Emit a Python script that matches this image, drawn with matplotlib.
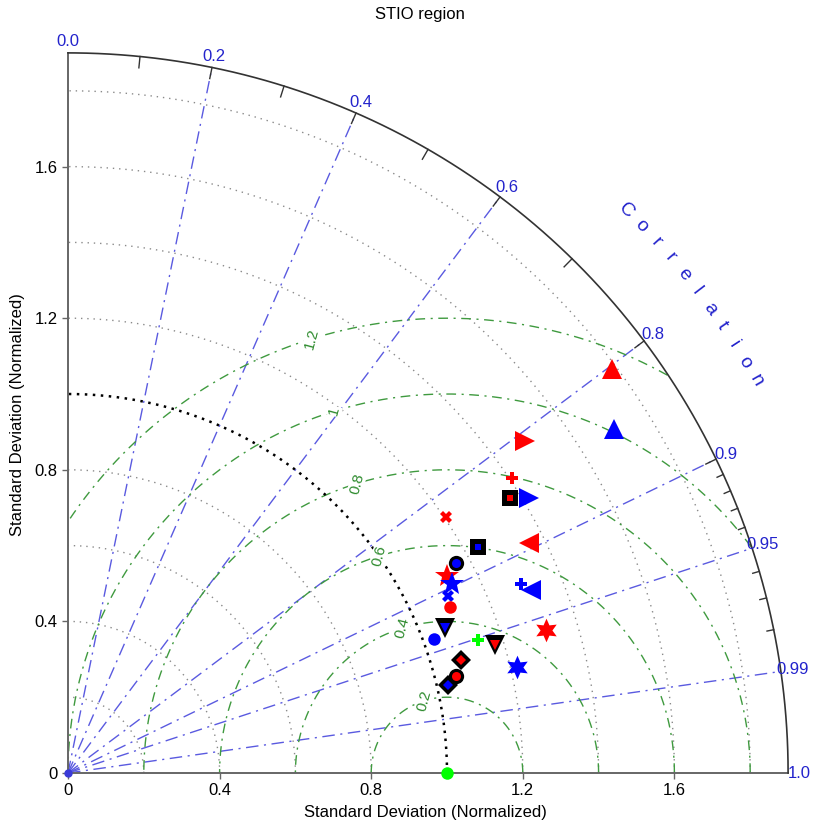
import numpy as np
import matplotlib.pyplot as plt

plt.rcParams['font.family'] = ['Liberation Sans', 'DejaVu Sans']

# normalized standard deviation and correlation of each model vs. observation
std_dev = [1.787, 1.704, 1.490, 1.406, 1.375, 1.416, 1.203, 1.235, 1.358,
           1.164, 1.127, 1.130, 1.106, 1.099, 1.294, 1.313, 1.066, 1.028,
           1.138, 1.175, 1.316, 1.217, 1.079, 1.055, 1.030, 1.000]
corr = [0.803, 0.846, 0.809, 0.833, 0.849, 0.859, 0.828, 0.876, 0.895,
        0.880, 0.887, 0.897, 0.907, 0.917, 0.923, 0.930, 0.933, 0.939,
        0.951, 0.958, 0.958, 0.973, 0.961, 0.970, 0.974, 1.000]

# marker styles (shape, colour, black backing)
shapes = ['^', '^', '>', 'P', 's', '>', 'X', 's', '<',
          'o', '*', '*', 'X', 'o', 'P', '<', 'v', 'o',
          'P', 'v', 'hex', 'hex', 'D', 'o', 'D', 'o']
colors = ['red', 'blue', 'red', 'red', 'red', 'blue', 'red', 'blue', 'red',
          'blue', 'red', 'blue', 'blue', 'red', 'blue', 'blue', 'blue', 'blue',
          'lime', 'red', 'red', 'blue', 'red', 'red', 'blue', 'lime']
backed = [False, False, False, False, True, False, False, True, False,
          True, False, False, False, False, False, False, True, False,
          False, True, False, False, True, True, True, False]

std_ticks = [0, 0.4, 0.8, 1.2, 1.6]
std_tick_labels = ['0', '0.4', '0.8', '1.2', '1.6']
std_circles = [0.2, 0.4, 0.6, 0.8, 1.0, 1.2, 1.4, 1.6, 1.8]
corr_lines = [0.2, 0.4, 0.6, 0.8, 0.9, 0.95, 0.99]
corr_labels = [0.0, 0.2, 0.4, 0.6, 0.8, 0.9, 0.95, 0.99, 1.0]
corr_label_text = ['0.0', '0.2', '0.4', '0.6', '0.8', '0.9', '0.95', '0.99', '1.0']
corr_major = [0.1, 0.2, 0.3, 0.4, 0.5, 0.6, 0.7, 0.8, 0.9]
corr_minor = [0.91, 0.92, 0.93, 0.94, 0.96, 0.97, 0.98]
rms_levels = [0.2, 0.4, 0.6, 0.8, 1.0, 1.2]
rms_labels = ['0.2', '0.4', '0.6', '0.8', '1', '1.2']
rmax = 1.9

fig = plt.figure(figsize=(8.19, 8.31), dpi=100)
ax = fig.add_axes([68 / 819, 58 / 831, rmax * 379 / 819, rmax * 379 / 831])
ax.set_xlim(0, rmax)
ax.set_ylim(0, rmax)
ax.spines['top'].set_visible(False)
ax.spines['right'].set_visible(False)
for s in ['left', 'bottom']:
    ax.spines[s].set_color('#666666')
    ax.spines[s].set_linewidth(1.4)
ax.set_xticks(std_ticks)
ax.set_xticklabels(std_tick_labels)
ax.set_yticks(std_ticks)
ax.set_yticklabels(std_tick_labels)
ax.tick_params(direction='out', length=4, width=1, color='#666666', labelsize=12)

theta = np.linspace(0, np.pi / 2, 300)

# std dev arcs
for r in std_circles:
    if r == 1.0:
        ax.plot(r * np.cos(theta), r * np.sin(theta), color='black',
                ls=(0, (1, 2.2)), lw=1.8, zorder=2)
    else:
        ax.plot(r * np.cos(theta), r * np.sin(theta), color='#8a8a8a',
                ls=(0, (1, 3.5)), lw=1, zorder=1)

# outer arc
ax.plot(rmax * np.cos(theta), rmax * np.sin(theta), color='#333333', lw=1.2,
        clip_on=False, zorder=3)

# correlation rays
for rho in corr_lines:
    a = np.arccos(rho)
    ax.plot([0, rmax * np.cos(a)], [0, rmax * np.sin(a)], color='#5a5ae0',
            lw=1, ls=(0, (9, 4, 1.5, 4)), zorder=1)
for rho, txt in zip(corr_labels, corr_label_text):
    a = np.arccos(rho)
    ax.text(1.93 * np.cos(a), 1.93 * np.sin(a), txt, ha='center', va='center',
            color='#2323cc', fontsize=12, clip_on=False)
for rho in corr_major:
    a = np.arccos(rho)
    ax.plot([(rmax - 0.03) * np.cos(a), rmax * np.cos(a)],
            [(rmax - 0.03) * np.sin(a), rmax * np.sin(a)], color='#333333', lw=1)
for rho in corr_minor:
    a = np.arccos(rho)
    ax.plot([(rmax - 0.018) * np.cos(a), rmax * np.cos(a)],
            [(rmax - 0.018) * np.sin(a), rmax * np.sin(a)], color='#333333', lw=1)

for i, ch in enumerate('Correlation'):
    a = np.radians(45.2 - i * 1.55)
    ax.text(2.09 * np.cos(a), 2.09 * np.sin(a), ch, rotation=np.degrees(a) - 90,
            ha='center', va='center', color='#2323cc', fontsize=14,
            clip_on=False, rotation_mode='anchor')

# centred RMS difference circles
phi = np.linspace(0, np.pi, 600)
for rr, txt in zip(rms_levels, rms_labels):
    x = 1 + rr * np.cos(phi)
    y = rr * np.sin(phi)
    bad = (x ** 2 + y ** 2 > rmax ** 2) | (x < 0)
    x = np.where(bad, np.nan, x)
    y = np.where(bad, np.nan, y)
    ax.plot(x, y, color='#3f9a3f', lw=1, ls=(0, (7, 4, 1.5, 4)), zorder=1)
    b = np.radians(107.3)
    ax.text(1 + rr * np.cos(b), rr * np.sin(b), txt, rotation=75, ha='center',
            va='center', color='#2e8b2e', fontsize=11, zorder=2,
            bbox=dict(facecolor='white', edgecolor='none', pad=0.5))

ax.plot(0, 0, 'o', color='#3a3ad8', ms=5, clip_on=False, zorder=3)

# models
sizes = {'^': 15, '>': 15, '<': 15, 'P': 9, 'X': 8, '*': 18, 'hex': 17,
         'o': 9, 's': 6, 'v': 7, 'D': 5}
back_sizes = {'s': 11, 'o': 11, 'v': 14, 'D': 10}
inner_sizes = {'s': 5, 'o': 6.5, 'v': 6.5, 'D': 5}
for sd, rho, shp, col, bk in zip(std_dev, corr, shapes, colors, backed):
    a = np.arccos(rho)
    x, y = sd * np.cos(a), sd * np.sin(a)
    mk = (6, 1, 0) if shp == 'hex' else shp
    if bk:
        ax.plot(x, y, marker=mk, color='black', ms=back_sizes[shp], mew=0,
                ls='none', clip_on=False, zorder=4)
        ax.plot(x, y, marker=mk, color=col, ms=inner_sizes[shp], mew=0,
                ls='none', clip_on=False, zorder=5)
    else:
        ax.plot(x, y, marker=mk, color=col, ms=sizes[shp], mew=0, ls='none',
                clip_on=False, zorder=4)

fig.text(0.513, 1 - 15 / 831, 'STIO region', ha='center', va='center', fontsize=12)
fig.text(425 / 819, 1 - 812 / 831, 'Standard Deviation (Normalized)', ha='center',
         va='center', fontsize=12)
fig.text(18 / 819, 1 - 415 / 831, 'Standard Deviation (Normalized)', ha='center',
         va='center', fontsize=12, rotation=90)

fig.savefig('out.png', dpi=100)
